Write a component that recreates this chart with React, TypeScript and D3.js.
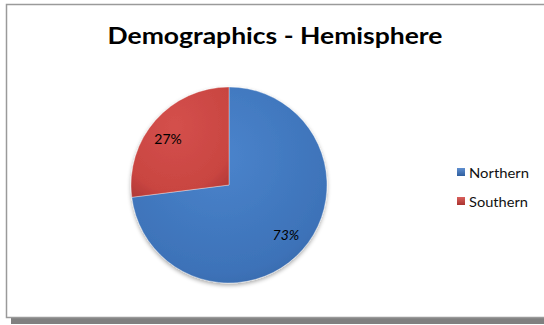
import React from "react";
import * as d3 from "d3";

const categories = ["Northern", "Southern"];
const values = [73, 27];
const labels = ["73%", "27%"];
const title = "Demographics - Hemisphere";

const W = 544;
const H = 325;

export default function App() {
  const cx = 229;
  const cy = 185;
  const r = 98;
  const pie = d3.pie<number>().sort(null).value((d) => d)(values);
  const arc = d3.arc<d3.PieArcDatum<number>>().innerRadius(0).outerRadius(r);
  const labelArc = d3.arc<d3.PieArcDatum<number>>().innerRadius(r * 0.72).outerRadius(r * 0.72);
  const fills = ["url(#gBlue)", "url(#gRed)"];
  const legendFills = ["url(#lBlue)", "url(#lRed)"];
  return (
    <div style={{ position: "fixed", left: 0, top: 0, width: W, height: H }}>
      <svg width={W} height={H} style={{ display: "block" }}>
        <defs>
          <radialGradient id="gBlue" cx="0.45" cy="0.35" r="0.75">
            <stop offset="0" stopColor="#4a84cc" />
            <stop offset="0.8" stopColor="#3d72b8" />
            <stop offset="1" stopColor="#3465a6" />
          </radialGradient>
          <radialGradient id="gRed" cx="0.45" cy="0.35" r="0.75">
            <stop offset="0" stopColor="#d4504c" />
            <stop offset="0.8" stopColor="#c94541" />
            <stop offset="1" stopColor="#b43b38" />
          </radialGradient>
          <linearGradient id="lBlue" x1="0" y1="0" x2="0" y2="1">
            <stop offset="0" stopColor="#5f8fd0" />
            <stop offset="1" stopColor="#2f5e9e" />
          </linearGradient>
          <linearGradient id="lRed" x1="0" y1="0" x2="0" y2="1">
            <stop offset="0" stopColor="#d9605c" />
            <stop offset="1" stopColor="#aa3330" />
          </linearGradient>
          <filter id="sh" x="-20%" y="-20%" width="140%" height="140%">
            <feGaussianBlur in="SourceAlpha" stdDeviation="2" />
            <feOffset dx="0" dy="2" result="b" />
            <feComponentTransfer>
              <feFuncA type="linear" slope="0.35" />
            </feComponentTransfer>
            <feMerge>
              <feMergeNode />
              <feMergeNode in="SourceGraphic" />
            </feMerge>
          </filter>
        </defs>
        <rect x={0} y={0} width={W} height={H} fill="#ffffff" />
        <rect x={11} y={318} width={W - 11} height={6} fill="#808080" />
        <rect x={6.5} y={4.5} width={W + 10} height={313} fill="#ffffff" stroke="#9a9a9a" strokeWidth={1.5} />
        <text
          x={275}
          y={44}
          textAnchor="middle"
          fontFamily="Lato, 'Open Sans', sans-serif"
          fontWeight="bold"
          fontSize={23}
          fill="#000"
          textLength={335}
          lengthAdjust="spacingAndGlyphs"
        >
          {title}
        </text>
        <g transform={`translate(${cx},${cy})`} filter="url(#sh)">
          {pie.map((d, i) => (
            <path key={categories[i]} d={arc(d) || ""} fill={fills[i]} stroke="#ffffff" strokeOpacity={0.35} strokeWidth={1} />
          ))}
        </g>
        <g transform={`translate(${cx},${cy})`}>
          {pie.map((d, i) => {
            const [lx, ly] = labelArc.centroid(d);
            const off = i === 0 ? [4, 4.5] : [-8, 2];
            return (
              <text
                key={labels[i]}
                x={lx + off[0]}
                y={ly + off[1]}
                textAnchor="middle"
                dominantBaseline="middle"
                fontFamily="Lato, 'Open Sans', sans-serif"
                fontSize={14}
                fill="#000"
                fontStyle={i === 0 ? "italic" : "normal"}
              >
                {labels[i]}
              </text>
            );
          })}
        </g>
        {categories.map((c, i) => (
          <g key={c} transform={`translate(457,${168 + i * 29})`}>
            <rect x={0} y={0} width={8} height={8} fill={legendFills[i]} />
            <text
              x={12}
              y={9.5}
              fontFamily="Lato, 'Open Sans', sans-serif"
              fontSize={14}
              fill="#111"
              textLength={c === "Northern" ? 60 : 59}
              lengthAdjust="spacingAndGlyphs"
            >
              {c}
            </text>
          </g>
        ))}
      </svg>
    </div>
  );
}
